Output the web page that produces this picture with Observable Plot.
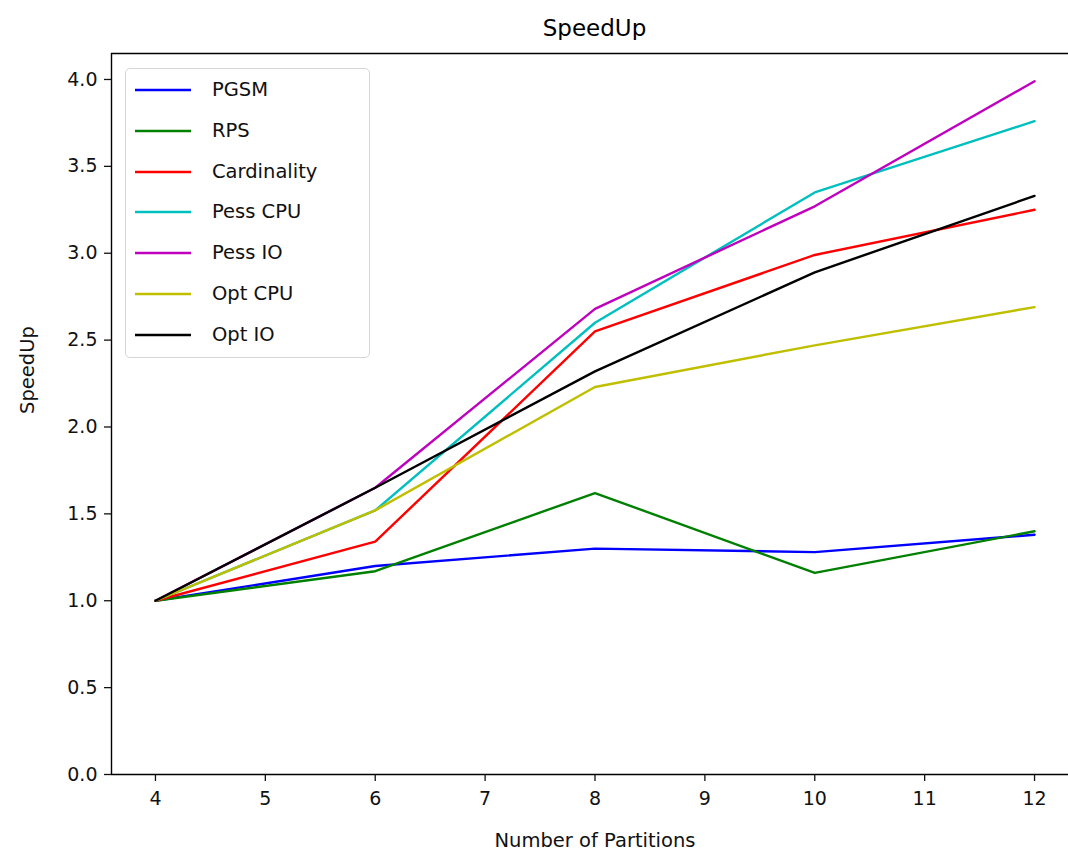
<!DOCTYPE html>
<html>
<head>
<meta charset="utf-8">
<script src="https://cdn.jsdelivr.net/npm/d3@7"></script>
<script src="https://cdn.jsdelivr.net/npm/@observablehq/plot@0.6"></script>
<style>
  html, body { margin: 0; padding: 0; background: #fff; overflow: hidden; width: 1068px; height: 856px; }
  body { position: relative; font-family: "DejaVu Sans", sans-serif; }
  #title { position: absolute; left: 0; top: 0; width: 1189px; max-width: none; height: 40px; text-align: center; font-size: 23px; line-height: 56px; color: #000; }
  #titlewrap { position: absolute; left: 0; top: 0; width: 1068px; height: 40px; overflow: hidden; }
  #chart { position: absolute; left: 0; top: 40px; width: 1068px; }
  #chart svg { max-width: none !important; width: 1068px !important; height: 816px !important; overflow: hidden; }
  #legend { position: absolute; left: 125px; top: 68px; width: 245px; height: 290px; border: 1.3px solid #d6d6d6; border-radius: 5px; background: rgba(255,255,255,0.8); box-sizing: border-box; }
  .row { position: absolute; left: 0; height: 24px; font-size: 19.5px; color: #111; }
  .row svg { position: absolute; left: 9px; top: 0; }
  .row span { position: absolute; left: 86px; top: 0; white-space: nowrap; line-height: 24px; }
</style>
</head>
<body>
<div id="titlewrap"><div id="title">SpeedUp</div></div>
<div id="chart"></div>
<div id="legend"></div>
<script>
const partitions = [4, 6, 8, 10, 12];
const seriesNames = ["PGSM", "RPS", "Cardinality", "Pess CPU", "Pess IO", "Opt CPU", "Opt IO"];
const seriesColors = ["#0000ff", "#008000", "#ff0000", "#00bfbf", "#bf00bf", "#bfbf00", "#000000"];
const pgsm        = [1.00, 1.20, 1.30, 1.28, 1.38];
const rps         = [1.00, 1.17, 1.62, 1.16, 1.40];
const cardinality = [1.00, 1.34, 2.55, 2.99, 3.25];
const pessCpu     = [1.00, 1.52, 2.60, 3.35, 3.76];
const pessIo      = [1.00, 1.65, 2.68, 3.27, 3.99];
const optCpu      = [1.00, 1.52, 2.23, 2.47, 2.69];
const optIo       = [1.00, 1.65, 2.32, 2.89, 3.33];
const yTicks = [0, 0.5, 1, 1.5, 2, 2.5, 3, 3.5, 4];
const xTicks = [4, 5, 6, 7, 8, 9, 10, 11, 12];
const xDomain = [3.6, 12.4];
const yDomain = [0, 4.1495];

const seriesValues = [pgsm, rps, cardinality, pessCpu, pessIo, optCpu, optIo];
const rows = [];
seriesNames.forEach((name, i) => {
  partitions.forEach((p, j) => rows.push({series: name, x: p, y: seriesValues[i][j]}));
});

const chart = Plot.plot({
  width: 1068,
  height: 816,
  marginLeft: 111,
  marginRight: -10,
  marginTop: 13,
  marginBottom: 82,
  style: {fontFamily: "DejaVu Sans, sans-serif", fontSize: "19px", color: "#111", background: "transparent", overflow: "hidden"},
  x: {domain: xDomain, ticks: xTicks, tickSize: 7, tickPadding: 10, tickFormat: d3.format("d"), label: null},
  y: {domain: yDomain, ticks: yTicks, tickSize: 7, tickPadding: 7, tickFormat: d3.format(".1f"), label: null},
  color: {domain: seriesNames, range: seriesColors},
  marks: [
    Plot.lineY(rows, {x: "x", y: "y", z: "series", stroke: "series", strokeWidth: 2.4}),
    Plot.ruleY([yDomain[1]], {x1: xDomain[0], x2: xDomain[1], stroke: "#000", strokeWidth: 1.4}),
    Plot.ruleY([yDomain[0]], {x1: xDomain[0], x2: xDomain[1], stroke: "#000", strokeWidth: 1.4}),
    Plot.ruleX([xDomain[0]], {stroke: "#000", strokeWidth: 1.4}),
    Plot.axisX({ticks: xTicks, tickSize: 7, tickPadding: 10, tickFormat: d3.format("d"), label: null, fontSize: 19, strokeWidth: 1.3}),
    Plot.axisY({ticks: yTicks, tickSize: 7, tickPadding: 7, tickFormat: d3.format(".1f"), label: null, fontSize: 19, strokeWidth: 1.3}),
    Plot.text(["Number of Partitions"], {x: 8, frameAnchor: "bottom", dy: 72, fontSize: 19.5, fill: "#111", text: d => d}),
    Plot.text(["SpeedUp"], {frameAnchor: "left", dx: -84, rotate: -90, fontSize: 19.5, fill: "#111", text: d => d})
  ]
});
document.getElementById("chart").appendChild(chart);

const legend = document.getElementById("legend");
seriesNames.forEach((name, i) => {
  const row = document.createElement("div");
  row.className = "row";
  row.style.top = (9 + i * 40.8) + "px";
  row.innerHTML = `<svg width="60" height="24"><line x1="0" x2="56" y1="12" y2="12" stroke="${seriesColors[i]}" stroke-width="2.6"/></svg><span>${name}</span>`;
  legend.appendChild(row);
});
</script>
</body>
</html>
